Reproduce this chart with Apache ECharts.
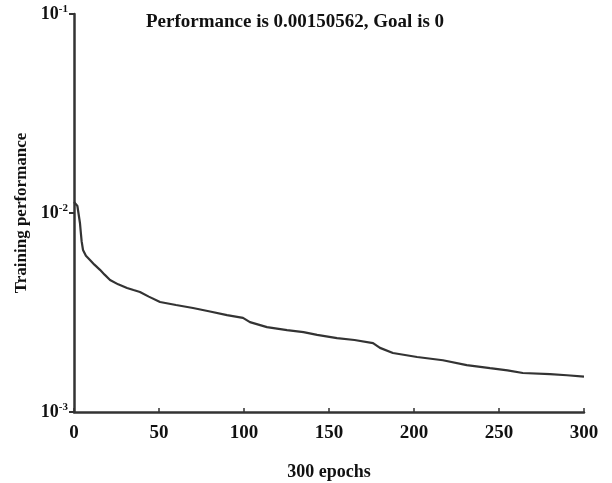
<!DOCTYPE html>
<html>
<head>
<meta charset="utf-8">
<script src="https://cdn.jsdelivr.net/npm/echarts@6/dist/echarts.min.js"></script>
<style>html,body{margin:0;padding:0;background:#fff}#c{width:612px;height:483px}</style>
</head>
<body>
<div id="c"></div>
<script>
const titleText = 'Performance is 0.00150562, Goal is 0';
const xAxisName = '300 epochs';
const yAxisName = 'Training performance';
const xTicks = [0, 50, 100, 150, 200, 250, 300];
const yTicks = [0.001, 0.01, 0.1];
const epochs = [0, 1, 2, 3.5, 4, 4.5, 5.3, 7, 9.4, 12, 15.3, 18, 21.2, 26, 31.2, 35, 38.8, 44, 50.6, 60, 70, 80, 90, 99.4, 103.5, 113.5, 125.3, 135, 143, 154.7, 165, 175.9, 180, 187.6, 201.8, 217, 231, 244.7, 255, 264, 280, 290, 300];
const perf = [0.01135, 0.01120, 0.01084, 0.00891, 0.00800, 0.00720, 0.00652, 0.00610, 0.00581, 0.00550, 0.00518, 0.00490, 0.00461, 0.00438, 0.00420, 0.00410, 0.00401, 0.00380, 0.00357, 0.00345, 0.00333, 0.00320, 0.00307, 0.00297, 0.00283, 0.00267, 0.00258, 0.00252, 0.00244, 0.00235, 0.00230, 0.00222, 0.00210, 0.00198, 0.00189, 0.00182, 0.00172, 0.00166, 0.00162, 0.00157, 0.00155, 0.00153, 0.0015056];

const font = 'Liberation Serif';
const ink = '#333';
const chart = echarts.init(document.getElementById('c'));
chart.setOption({
  animation: false,
  backgroundColor: '#fff',
  title: {
    text: titleText, left: 290, top: 8, textAlign: 'center',
    textStyle: {fontFamily: font, fontSize: 19, fontWeight: 'bold', color: '#111'}
  },
  grid: {left: 74, right: 28, top: 14, bottom: 71, containLabel: false, outerBoundsMode: 'none'},
  xAxis: {
    type: 'value', min: 0, max: 300, interval: 50,
    name: xAxisName, nameLocation: 'middle', nameGap: 51,
    nameTextStyle: {fontFamily: font, fontSize: 18, fontWeight: 'bold', color: '#111'},
    axisLine: {lineStyle: {color: ink, width: 2.5}},
    axisTick: {show: true, inside: true, length: 4, lineStyle: {color: ink, width: 1.5}},
    axisLabel: {fontFamily: font, fontSize: 19, fontWeight: 'bold', color: '#111', margin: 12,
      formatter: v => xTicks.includes(v) ? String(v) : ''},
    splitLine: {show: false}
  },
  yAxis: {
    type: 'log', logBase: 10, min: yTicks[0], max: yTicks[yTicks.length - 1],
    name: yAxisName, nameLocation: 'middle', nameGap: 44, nameRotate: 90,
    nameTextStyle: {fontFamily: font, fontSize: 17, fontWeight: 'bold', color: '#111'},
    axisLine: {lineStyle: {color: ink, width: 2.5}},
    axisTick: {show: true, length: 5, lineStyle: {color: ink, width: 2}},
    minorTick: {show: false},
    axisLabel: {
      margin: 6,
      formatter: v => '{b|10}{s|' + Math.round(Math.log10(v)) + '}',
      rich: {
        b: {fontFamily: font, fontSize: 18, fontWeight: 'bold', color: '#111'},
        s: {fontFamily: font, fontSize: 11, fontWeight: 'bold', color: '#111', verticalAlign: 'top', padding: [0, 0, 9, 0]}
      }
    },
    splitLine: {show: false}
  },
  series: [{
    type: 'line', showSymbol: false,
    data: epochs.map((e, i) => [e, perf[i]]),
    lineStyle: {color: ink, width: 2.2}
  }]
});
</script>
</body>
</html>
